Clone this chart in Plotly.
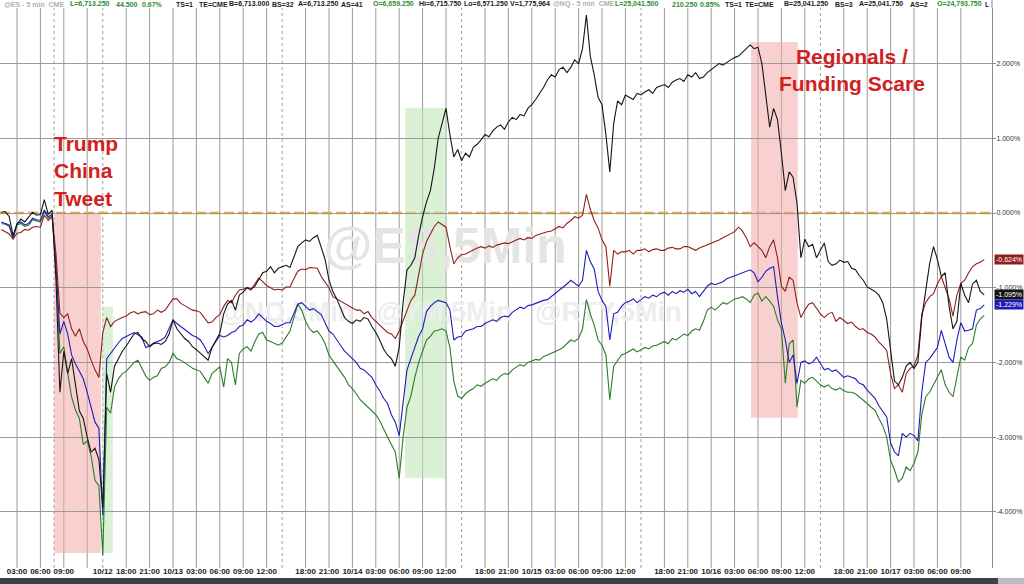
import plotly.graph_objects as go

# ---------------- data (session hours, 0.5h step, % change) ----------------
T_START, T_STEP = 1.0, 0.5

es_black = [
 0.01, 0.02, -0.05, -0.30, -0.15, -0.08, -0.12, -0.05, 0.01, -0.03,
 -0.02, 0.18, -0.02, 0.04, -0.90, -2.40, -1.85, -2.15, -1.95, -2.30,
 -2.65, -2.75, -3.00, -3.20, -3.15, -3.30, -3.95, -2.15, -2.40, -2.05,
 -1.95, -1.85, -1.78, -1.70, -1.62, -1.60, -1.68, -1.72, -1.79, -1.75,
 -1.74, -1.76, -1.72, -1.62, -1.43, -1.55, -1.61, -1.68, -1.72, -1.79,
 -1.83, -1.88, -1.92, -1.97, -1.80, -1.70, -1.61, -1.35, -1.22, -1.17,
 -1.30, -1.10, -1.06, -1.00, -1.02, -0.98, -0.88, -0.80, -0.78, -0.72,
 -0.80, -0.74, -0.72, -0.70, -0.73, -0.60, -0.45, -0.40, -0.36, -0.38,
 -0.33, -0.30, -0.45, -0.62, -0.90, -1.05, -1.15, -1.27, -1.40, -1.45,
 -1.48, -1.43, -1.45, -1.40, -1.42, -1.52, -1.60, -1.70, -1.82, -1.90,
 -1.95, -2.05, -1.80, -1.20, -0.76, -0.70, -0.60, -0.30, -0.05, 0.15,
 0.30, 0.60, 1.00, 1.20, 1.40, 1.05, 0.75, 0.85, 0.70, 0.80,
 0.75, 0.88, 0.92, 0.98, 1.05, 1.02, 1.10, 1.15, 1.18, 1.12,
 1.22, 1.28, 1.25, 1.32, 1.30, 1.40, 1.45, 1.52, 1.60, 1.68,
 1.78, 1.85, 1.82, 1.92, 1.95, 1.88, 1.95, 2.05, 2.00, 2.20,
 2.65, 2.10, 1.85, 1.55, 1.45, 1.05, 0.55, 1.20, 1.50, 1.45,
 1.58, 1.55, 1.52, 1.60, 1.58, 1.62, 1.65, 1.60, 1.68, 1.70,
 1.72, 1.68, 1.75, 1.78, 1.80, 1.76, 1.85, 1.82, 1.88, 1.80,
 1.82, 1.88, 1.92, 1.95, 2.00, 1.98, 2.02, 2.05, 2.08, 2.10,
 2.15, 2.20, 2.25, 2.20, 2.22, 2.00, 1.55, 1.15, 1.40, 1.25,
 0.80, 0.30, 0.55, 0.48, 0.13, -0.60, -0.35, -0.45, -0.42, -0.60,
 -0.50, -0.40, -0.65, -0.70, -0.68, -0.63, -0.66, -0.65, -0.74, -0.76,
 -0.84, -0.90, -0.99, -1.02, -1.05, -1.10, -1.20, -1.42, -1.85, -2.25,
 -2.30, -2.20, -2.05, -2.00, -2.08, -2.00, -1.40, -1.05, -0.68, -0.45,
 -0.62, -0.85, -0.80, -1.25, -1.55, -1.45, -0.94, -1.10, -1.20, -0.95,
 -0.90, -1.05, -1.095,
]

ym_red = [
 -0.22, -0.25, -0.28, -0.35, -0.27, -0.26, -0.22, -0.23, -0.19, -0.18,
 -0.19, -0.03, -0.10, -0.05, -0.55, -1.34, -1.40, -1.35, -1.55, -1.65,
 -1.55, -1.72, -1.82, -1.97, -2.10, -2.20, -1.60, -1.40, -1.52, -1.45,
 -1.42, -1.40, -1.38, -1.34, -1.32, -1.35, -1.33, -1.32, -1.36, -1.35,
 -1.30, -1.33, -1.30, -1.22, -1.15, -1.15, -1.21, -1.24, -1.27, -1.30,
 -1.31, -1.33, -1.40, -1.47, -1.46, -1.40, -1.36, -1.25, -1.17, -1.20,
 -1.10, -1.03, -1.02, -1.00, -1.03, -0.95, -0.87, -0.92, -0.97, -1.00,
 -1.03, -1.02, -1.03, -0.99, -0.99, -0.88, -0.78, -0.75, -0.76, -0.73,
 -0.74, -0.74, -0.85, -0.93, -1.00, -1.12, -1.15, -1.18, -1.22, -1.25,
 -1.28, -1.30, -1.30, -1.35, -1.32, -1.40, -1.45, -1.50, -1.55, -1.60,
 -1.62, -1.68, -1.58, -1.45, -1.30, -1.17, -1.10, -0.80, -0.55, -0.38,
 -0.28, -0.18, -0.12, -0.15, -0.19, -0.45, -0.68, -0.60, -0.56, -0.55,
 -0.52, -0.50, -0.47, -0.45, -0.47, -0.44, -0.46, -0.43, -0.42, -0.40,
 -0.41, -0.38, -0.36, -0.34, -0.36, -0.33, -0.34, -0.30, -0.28, -0.27,
 -0.25, -0.24, -0.21, -0.18, -0.20, -0.14, -0.10, -0.05, -0.07, -0.03,
 0.25, 0.05, -0.10, -0.20, -0.36, -0.45, -0.98, -0.50, -0.55, -0.52,
 -0.52, -0.50, -0.55, -0.50, -0.50, -0.48, -0.52, -0.49, -0.48, -0.50,
 -0.50, -0.47, -0.46, -0.48, -0.48, -0.45, -0.45, -0.47, -0.50, -0.47,
 -0.45, -0.42, -0.40, -0.38, -0.36, -0.33, -0.30, -0.27, -0.25, -0.19,
 -0.24, -0.33, -0.45, -0.40, -0.45, -0.50, -0.60, -0.45, -0.36, -0.60,
 -0.98, -1.05, -0.86, -0.90, -1.20, -1.40, -1.30, -1.22, -1.20, -1.28,
 -1.35, -1.40, -1.35, -1.33, -1.45, -1.40, -1.44, -1.48, -1.46, -1.52,
 -1.56, -1.55, -1.60, -1.62, -1.66, -1.73, -1.78, -1.84, -2.15, -2.35,
 -2.30, -2.40, -2.15, -2.08, -2.05, -1.90, -1.35, -1.20, -1.12, -1.08,
 -0.95, -0.85, -1.00, -1.15, -1.38, -1.10, -0.94, -0.90, -0.80, -0.72,
 -0.68, -0.66, -0.624,
]

nq_blue = [
 -0.12, -0.14, -0.16, -0.33, -0.14, -0.12, -0.16, -0.14, -0.07, -0.09,
 -0.10, 0.04, -0.05, -0.02, -0.70, -1.62, -1.45, -1.62, -1.90, -2.02,
 -2.12, -2.22, -2.40, -2.62, -2.80, -2.88, -4.05, -1.95, -1.88, -1.80,
 -1.74, -1.68, -1.65, -1.62, -1.60, -1.63, -1.66, -1.80, -1.78, -1.74,
 -1.72, -1.70, -1.66, -1.55, -1.43, -1.48, -1.52, -1.57, -1.61, -1.64,
 -1.66, -1.70, -1.78, -1.88, -1.80, -1.72, -1.64, -1.66, -1.64, -1.60,
 -1.58, -1.52, -1.50, -1.43, -1.46, -1.42, -1.35, -1.40, -1.45, -1.48,
 -1.52, -1.52, -1.50, -1.47, -1.47, -1.35, -1.22, -1.20, -1.25, -1.30,
 -1.28, -1.32, -1.36, -1.47, -1.58, -1.62, -1.70, -1.78, -1.85, -1.90,
 -1.95, -2.00, -2.08, -2.10, -2.15, -2.20, -2.30, -2.38, -2.48, -2.55,
 -2.70, -2.80, -2.98, -2.50, -2.10, -1.95, -1.80, -1.65, -1.55, -1.32,
 -1.25, -1.20, -1.17, -1.18, -1.20, -1.30, -1.70, -1.66, -1.65, -1.58,
 -1.57, -1.55, -1.52, -1.52, -1.48, -1.46, -1.43, -1.45, -1.40, -1.38,
 -1.39, -1.33, -1.30, -1.26, -1.28, -1.24, -1.23, -1.21, -1.18, -1.17,
 -1.16, -1.12, -1.08, -1.03, -1.00, -0.95, -0.90, -0.94, -0.98, -0.90,
 -0.50, -0.65, -0.75, -1.05, -1.17, -1.25, -1.70, -1.35, -1.33, -1.25,
 -1.20, -1.18, -1.15, -1.20, -1.16, -1.12, -1.14, -1.10, -1.12, -1.08,
 -1.06, -1.10, -1.05, -1.08, -1.04, -1.06, -1.02, -1.08, -1.05, -1.12,
 -1.05, -0.98, -0.94, -0.96, -0.94, -0.92, -0.88, -0.86, -0.84, -0.82,
 -0.80, -0.78, -0.76, -0.80, -0.92, -0.86, -0.78, -0.74, -0.72, -1.12,
 -1.47, -1.70, -2.00, -1.90, -2.28, -2.00, -1.98, -2.02, -2.00, -1.93,
 -2.02, -2.10, -2.08, -2.12, -2.10, -2.15, -2.20, -2.18, -2.20, -2.22,
 -2.28, -2.30, -2.37, -2.42, -2.48, -2.58, -2.65, -2.73, -3.08, -3.20,
 -3.25, -2.95, -3.00, -2.95, -2.98, -3.05, -2.40, -2.00, -1.95, -1.88,
 -1.80, -1.57, -1.75, -1.93, -2.00, -1.70, -1.47, -1.58, -1.57, -1.55,
 -1.30, -1.28, -1.229,
]

rty_green = [
 -0.14, -0.15, -0.18, -0.35, -0.16, -0.14, -0.18, -0.16, -0.09, -0.11,
 -0.12, 0.02, -0.07, -0.04, -0.75, -1.88, -1.79, -2.14, -2.46, -2.64,
 -2.75, -3.10, -3.05, -3.25, -3.58, -3.65, -4.58, -2.60, -2.68, -2.33,
 -2.22, -2.15, -2.12, -2.06, -2.00, -1.97, -2.08, -2.18, -2.24, -2.20,
 -2.18, -2.08, -2.06, -2.00, -1.88, -1.95, -1.97, -2.00, -2.04, -2.08,
 -2.10, -2.12, -2.20, -2.28, -2.15, -2.10, -2.06, -2.33, -1.95, -2.00,
 -2.30, -1.88, -1.82, -1.79, -1.85, -1.72, -1.62, -1.60, -1.70, -1.72,
 -1.75, -1.77, -1.74, -1.65, -1.58, -1.40, -1.22, -1.30, -1.45, -1.55,
 -1.60, -1.58, -1.65, -1.75, -1.90, -1.98, -2.05, -2.12, -2.20, -2.30,
 -2.35, -2.42, -2.50, -2.55, -2.60, -2.65, -2.70, -2.78, -2.90, -3.00,
 -3.10, -3.20, -3.55, -3.00, -2.60, -2.45, -2.20, -2.00, -1.85, -1.70,
 -1.65, -1.58, -1.57, -1.55, -1.58, -1.80, -2.25, -2.45, -2.48, -2.42,
 -2.38, -2.35, -2.30, -2.32, -2.28, -2.25, -2.22, -2.24, -2.18, -2.15,
 -2.16, -2.10, -2.06, -2.03, -2.05, -2.00, -1.98, -1.96, -1.97, -1.92,
 -1.90, -1.88, -1.85, -1.83, -1.80, -1.75, -1.70, -1.72, -1.68, -1.55,
 -1.16, -1.35, -1.50, -1.70, -1.77, -1.90, -2.50, -2.05, -1.97, -1.90,
 -1.88, -1.85, -1.82, -1.86, -1.83, -1.80, -1.82, -1.78, -1.77, -1.74,
 -1.72, -1.75, -1.68, -1.70, -1.66, -1.62, -1.64, -1.58, -1.55, -1.57,
 -1.45, -1.30, -1.26, -1.30, -1.25, -1.20, -1.22, -1.18, -1.15, -1.14,
 -1.12, -1.15, -1.20, -1.10, -1.07, -1.18, -1.12, -1.18, -1.25, -1.43,
 -1.55, -2.28, -1.75, -1.70, -2.60, -2.24, -2.28, -2.22, -2.20, -2.25,
 -2.30, -2.33, -2.30, -2.35, -2.37, -2.34, -2.38, -2.40, -2.40, -2.42,
 -2.46, -2.50, -2.55, -2.60, -2.64, -2.75, -2.85, -3.00, -3.31, -3.44,
 -3.60, -3.55, -3.40, -3.45, -3.35, -3.20, -2.70, -2.46, -2.40, -2.30,
 -2.20, -2.10, -2.30, -2.40, -2.46, -2.20, -1.93, -1.97, -1.80, -1.75,
 -1.50, -1.42, -1.37,
]

# x-axis ticks (session hours) and labels
tick_times = [3, 6, 9, 12, 14, 17, 20, 23, 26, 29, 32, 35, 40, 43, 46, 49, 52, 55, 58,
              63, 66, 69, 72, 75, 78, 81, 86, 89, 92, 95, 98, 101, 104,
              109, 112, 115, 118, 121, 124]
tick_text = ["03:00", "06:00", "09:00", "", "10/12", "18:00", "21:00", "10/13", "03:00",
             "06:00", "09:00", "12:00", "18:00", "21:00", "10/14", "03:00", "06:00", "09:00",
             "12:00", "18:00", "21:00", "10/15", "03:00", "06:00", "09:00", "12:00", "18:00",
             "21:00", "10/16", "03:00", "06:00", "09:00", "12:00", "18:00", "21:00", "10/17",
             "03:00", "06:00", "09:00"]
session_breaks = [7.75, 14, 37, 60, 83, 106]

y_ticks = [2, 1, 0, -1, -2, -3, -4]
y_tick_text = ["2.000%", "1.000%", "0.000%", "-1.000%", "-2.000%", "-3.000%", "-4.000%"]

# event windows: (t0, t1, top %, bottom %, kind)
event_windows = [
    (7.75, 13.75, 0.0, -4.55, "sell"),
    (13.95, 15.3, -1.25, -4.55, "buy"),
    (52.75, 58.0, 1.41, -3.55, "buy"),
    (97.1, 103.1, 2.29, -2.74, "sell"),
]

header_items = [
    ("@ES - 5 min  CME", "gray", 2), ("L=6,713.250", "green", 68), ("44.500", "green", 114),
    ("0.67%", "green", 140), ("TS=1", "black", 174), ("TE=CME", "black", 197),
    ("B=6,713.000", "black", 227), ("BS=32", "black", 270), ("A=6,713.250", "black", 296),
    ("AS=41", "black", 339), ("O=6,659.250", "green", 371), ("Hi=6,715.750", "black", 417),
    ("Lo=6,571.250", "black", 462), ("V=1,775,964", "black", 508),
    ("@NQ - 5 min  CME", "gray", 551), ("L=25,041.500", "green", 613), ("210.250", "green", 670),
    ("0.85%", "green", 698), ("TS=1", "black", 723), ("TE=CME", "black", 743),
    ("B=25,041.250", "black", 782), ("BS=3", "black", 833), ("A=25,041.750", "black", 857),
    ("AS=2", "black", 908), ("O=24,793.750", "green", 935), ("L", "black", 983),
]

# ---------------- figure ----------------
W, H = 1024, 584
ML, MR, MT, MB = 0, 32, 8, 16
PW, PH = W - ML - MR, H - MT - MB
FONT = "Liberation Sans, Arial, sans-serif"

times = [T_START + T_STEP * i for i in range(len(es_black))]

def px_x(p):
    return p / PW

def px_y(p):
    return (H - MB - p) / PH

fig = go.Figure()

# watermarks (behind the lines)
fig.add_trace(go.Scatter(x=[57.9], y=[-0.5], mode="text", text=["<b>@ES,5Min</b>"],
                         textfont=dict(family=FONT, size=50, color="#e4e4e4"),
                         hoverinfo="skip", showlegend=False))
fig.add_trace(go.Scatter(x=[58.5], y=[-1.35], mode="text",
                         text=["<b>@NQ,5Min   @YM,5Min   @RTY,5Min</b>"],
                         textfont=dict(family=FONT, size=27, color="#ededed"),
                         hoverinfo="skip", showlegend=False))

series = [
    ("@RTY", rty_green, "#2b7d2b"),
    ("@NQ", nq_blue, "#1d1db8"),
    ("@YM", ym_red, "#8e1f1f"),
    ("@ES", es_black, "#151515"),
]
for name, vals, col in series:
    fig.add_trace(go.Scatter(x=times, y=vals, mode="lines", name=name,
                             line=dict(color=col, width=1.1), showlegend=False,
                             hoverinfo="skip"))

shapes = []
fills = {"sell": "rgba(244,170,170,0.55)", "buy": "rgba(190,230,180,0.55)"}
for t0, t1, top, bot, kind in event_windows:
    shapes.append(dict(type="rect", xref="x", yref="y", x0=t0, x1=t1, y0=bot, y1=top,
                       fillcolor=fills[kind], line=dict(width=0), layer="below"))
for tv in tick_times:
    if tv in session_breaks:
        continue
    shapes.append(dict(type="line", xref="x", yref="paper", x0=tv, x1=tv, y0=0, y1=1,
                       line=dict(color="#9a9a9a", width=1), layer="below"))
for tv in session_breaks:
    shapes.append(dict(type="line", xref="x", yref="paper", x0=tv, x1=tv, y0=0, y1=1,
                       line=dict(color="#a0a0a0", width=1, dash="3px,3px"), layer="below"))
# zero reference line
shapes.append(dict(type="line", xref="paper", yref="y", x0=0, x1=1, y0=0, y1=0,
                   line=dict(color="#f3a42c", width=2.5, dash="10px,4px"), layer="between"))
# right border up through header
shapes.append(dict(type="line", xref="paper", yref="paper", x0=1, x1=1, y0=1, y1=1 + MT / PH,
                   line=dict(color="#8a8a8a", width=1)))
# bottom status bar
shapes.append(dict(type="rect", xref="paper", yref="paper", x0=0, x1=W / PW,
                   y0=px_y(584), y1=px_y(578), fillcolor="#3b3f46", line=dict(width=0)))
shapes.append(dict(type="rect", xref="paper", yref="paper", x0=px_x(998), x1=W / PW,
                   y0=px_y(584), y1=px_y(578), fillcolor="#b9bdc3", line=dict(width=0)))

annotations = []
hdr_colors = {"gray": "#b0b0b0", "green": "#2e8b2e", "black": "#1a1a1a"}
for txt, c, xp in header_items:
    annotations.append(dict(text="<b>" + txt + "</b>", x=px_x(xp), y=px_y(4), xref="paper",
                            yref="paper", xanchor="left", yanchor="middle", showarrow=False,
                            font=dict(family=FONT, size=7, color=hdr_colors[c])))

annotations.append(dict(text="<b>Trump<br>China<br>Tweet</b>", x=px_x(52), y=px_y(130),
                        xref="paper", yref="paper", xanchor="left", yanchor="top", align="left",
                        showarrow=False, font=dict(family=FONT, size=21, color="#d2201f")))
annotations.append(dict(text="<b>Regionals /<br>Funding Scare</b>", x=px_x(852), y=px_y(43),
                        xref="paper", yref="paper", xanchor="center", yanchor="top",
                        align="center", showarrow=False,
                        font=dict(family=FONT, size=21, color="#d2201f")))

# last-value boxes on the right axis
for vals, col in [(ym_red, "#8e1f1f"), (es_black, "#151515"), (nq_blue, "#1d1db8")]:
    v = vals[-1]
    annotations.append(dict(text="%.3f%%" % v, x=1, y=v, xref="paper", yref="y",
                            xanchor="left", yanchor="middle", xshift=2, showarrow=False,
                            bgcolor=col, borderpad=1,
                            font=dict(family=FONT, size=7, color="white")))

fig.update_layout(
    width=W, height=H,
    margin=dict(l=ML, r=MR, t=MT, b=MB, pad=0),
    paper_bgcolor="white", plot_bgcolor="white",
    showlegend=False,
    shapes=shapes, annotations=annotations,
    xaxis=dict(range=[6.4 / 7.8, (PW + 6.4) / 7.8], showgrid=False, zeroline=False,
               showline=False, tickmode="array", tickvals=tick_times,
               ticktext=["<b>" + s + "</b>" for s in tick_text], ticks="",
               tickfont=dict(family=FONT, size=8, color="#222"), fixedrange=True,
               automargin=False, ticklabelstandoff=-3),
    yaxis=dict(side="right", range=[-(H - MB - 213) / 74.7, (213 - MT) / 74.7],
               tickmode="array", tickvals=y_ticks, ticktext=y_tick_text,
               showgrid=True, gridcolor="#9a9a9a", gridwidth=1, zeroline=False,
               showline=True, linecolor="#8a8a8a", linewidth=1, ticks="outside",
               ticklen=3, tickcolor="#8a8a8a", automargin=False, ticklabelstandoff=-1,
               tickfont=dict(family=FONT, size=7, color="#333"), fixedrange=True),
)

fig.write_html("out.html", config={"displayModeBar": False},
               post_script="document.body.style.margin='0';document.body.style.overflow='hidden';")
